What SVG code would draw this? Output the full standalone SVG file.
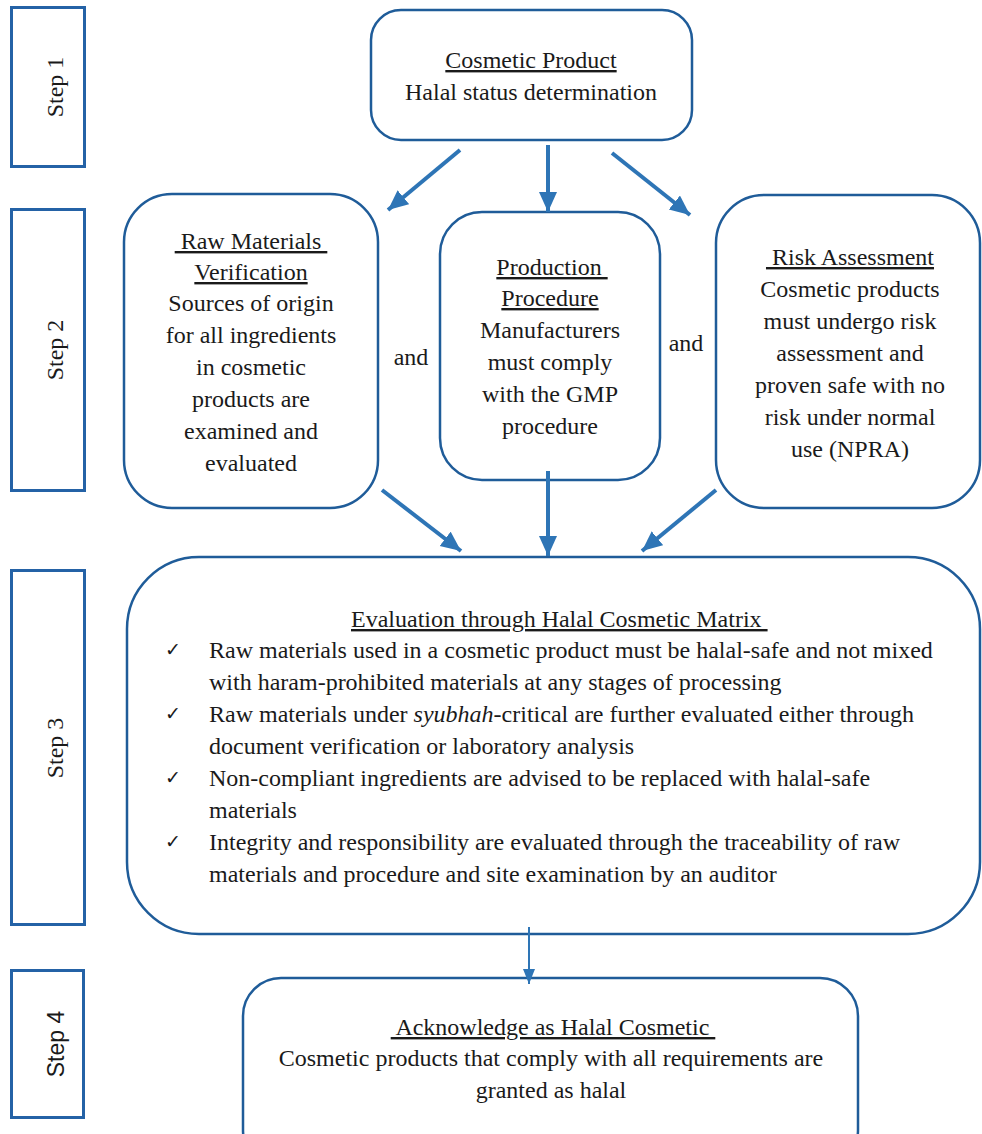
<svg xmlns="http://www.w3.org/2000/svg" width="982" height="1134" viewBox="0 0 982 1134">
<defs>
<style>
.step{fill:#ffffff;stroke:#2462a6;stroke-width:3}
.node{fill:#ffffff;stroke:#1f5c99;stroke-width:2.5}
.t{font-family:'Liberation Serif','Times New Roman',serif;font-size:24px;fill:#1a1a1a}
.c{text-anchor:middle}
.u{text-decoration:underline}
.ss{font-family:'Liberation Sans',Arial,sans-serif;font-size:23px;fill:#1a1a1a}
.chk{font-family:'DejaVu Sans',sans-serif;font-size:19px;fill:#1a1a1a}
.arr{stroke:#2e75b6;stroke-width:4;fill:none}
.arr2{stroke:#2e75b6;stroke-width:2;fill:none}
</style>
<marker id="ah" markerUnits="userSpaceOnUse" markerWidth="22" markerHeight="20" refX="20" refY="9" orient="auto">
<path d="M0,0 L20,9 L0,18 Z" fill="#2e75b6"/>
</marker>
<marker id="ah2" markerUnits="userSpaceOnUse" markerWidth="16" markerHeight="14" refX="15" refY="6" orient="auto">
<path d="M0,0 L15,6 L0,12 Z" fill="#2e75b6"/>
</marker>
</defs>
<rect x="0" y="0" width="982" height="1134" fill="#ffffff"/>

<g id="step1"><rect class="step" x="11.5" y="7.5" width="73" height="159"/><text class="t c" transform="translate(63,87) rotate(-90)">Step 1</text></g>
<g id="step2"><rect class="step" x="11.5" y="209.5" width="73" height="281"/><text class="t c" transform="translate(63,350) rotate(-90)">Step 2</text></g>
<g id="step3"><rect class="step" x="11.5" y="570.5" width="73" height="354"/><text class="t c" transform="translate(63,748) rotate(-90)">Step 3</text></g>
<g id="step4"><rect class="step" x="11.5" y="970.5" width="72" height="147"/><text class="ss c" transform="translate(64,1044) rotate(-90)">Step 4</text></g>

<g id="cosmetic-product">
<rect class="node" x="371" y="10" width="321" height="130" rx="30"/>
<text class="t c u" x="531" y="68">Cosmetic Product</text>
<text class="t c" x="531" y="100">Halal status determination</text>
</g>

<g id="raw-materials">
<rect class="node" x="124" y="194" width="254" height="314" rx="48"/>
<text class="t c u" x="251" y="249" xml:space="preserve"> Raw Materials </text>
<text class="t c u" x="251" y="280">Verification</text>
<text class="t c" x="251" y="311">Sources of origin</text>
<text class="t c" x="251" y="343">for all ingredients</text>
<text class="t c" x="251" y="375">in cosmetic</text>
<text class="t c" x="251" y="407">products are</text>
<text class="t c" x="251" y="439">examined and</text>
<text class="t c" x="251" y="471">evaluated</text>
</g>

<g id="and-labels">
<text class="t c" x="411" y="365">and</text>
<text class="t c" x="686" y="351">and</text>
</g>

<g id="production-procedure">
<rect class="node" x="440" y="212" width="220" height="268" rx="42"/>
<text class="t c u" x="552" y="275" xml:space="preserve">Production </text>
<text class="t c u" x="550" y="306">Procedure</text>
<text class="t c" x="550" y="338">Manufacturers</text>
<text class="t c" x="550" y="370">must comply</text>
<text class="t c" x="550" y="402">with the GMP</text>
<text class="t c" x="550" y="434">procedure</text>
</g>

<g id="risk-assessment">
<rect class="node" x="716" y="195" width="264" height="313" rx="48"/>
<text class="t c u" x="850" y="265" xml:space="preserve"> Risk Assessment</text>
<text class="t c" x="850" y="297">Cosmetic products</text>
<text class="t c" x="850" y="329">must undergo risk</text>
<text class="t c" x="850" y="361">assessment and</text>
<text class="t c" x="850" y="393">proven safe with no</text>
<text class="t c" x="850" y="425">risk under normal</text>
<text class="t c" x="850" y="457">use (NPRA)</text>
</g>

<g id="evaluation-matrix">
<rect class="node" x="127" y="557" width="853" height="377" rx="72"/>
<text class="t u" x="351" y="627" xml:space="preserve">Evaluation through Halal Cosmetic Matrix </text>
<text class="chk" x="165" y="656">✓</text>
<text class="t" x="209" y="658">Raw materials used in a cosmetic product must be halal-safe and not mixed</text>
<text class="t" x="209" y="690">with haram-prohibited materials at any stages of processing</text>
<text class="chk" x="165" y="720">✓</text>
<text class="t" x="209" y="722">Raw materials under <tspan font-style="italic">syubhah</tspan>-critical are further evaluated either through</text>
<text class="t" x="209" y="754">document verification or laboratory analysis</text>
<text class="chk" x="165" y="784">✓</text>
<text class="t" x="209" y="786">Non-compliant ingredients are advised to be replaced with halal-safe</text>
<text class="t" x="209" y="818">materials</text>
<text class="chk" x="165" y="848">✓</text>
<text class="t" x="209" y="850">Integrity and responsibility are evaluated through the traceability of raw</text>
<text class="t" x="209" y="882">materials and procedure and site examination by an auditor</text>
</g>

<g id="acknowledge">
<rect class="node" x="243" y="978" width="615" height="190" rx="38"/>
<text class="t c u" x="553" y="1035" xml:space="preserve"> Acknowledge as Halal Cosmetic </text>
<text class="t c" x="551" y="1066">Cosmetic products that comply with all requirements are</text>
<text class="t c" x="551" y="1098">granted as halal</text>
</g>

<g id="connectors">
<line class="arr" x1="460" y1="150" x2="388" y2="210" marker-end="url(#ah)"/>
<line class="arr" x1="548" y1="145" x2="548" y2="212" marker-end="url(#ah)"/>
<line class="arr" x1="612" y1="153" x2="690" y2="215" marker-end="url(#ah)"/>
<line class="arr" x1="382" y1="490" x2="461" y2="551" marker-end="url(#ah)"/>
<line class="arr" x1="548" y1="471" x2="548" y2="556" marker-end="url(#ah)"/>
<line class="arr" x1="716" y1="490" x2="642" y2="551" marker-end="url(#ah)"/>
<line class="arr2" x1="529" y1="927" x2="529" y2="984" marker-end="url(#ah2)"/>
</g>
</svg>
